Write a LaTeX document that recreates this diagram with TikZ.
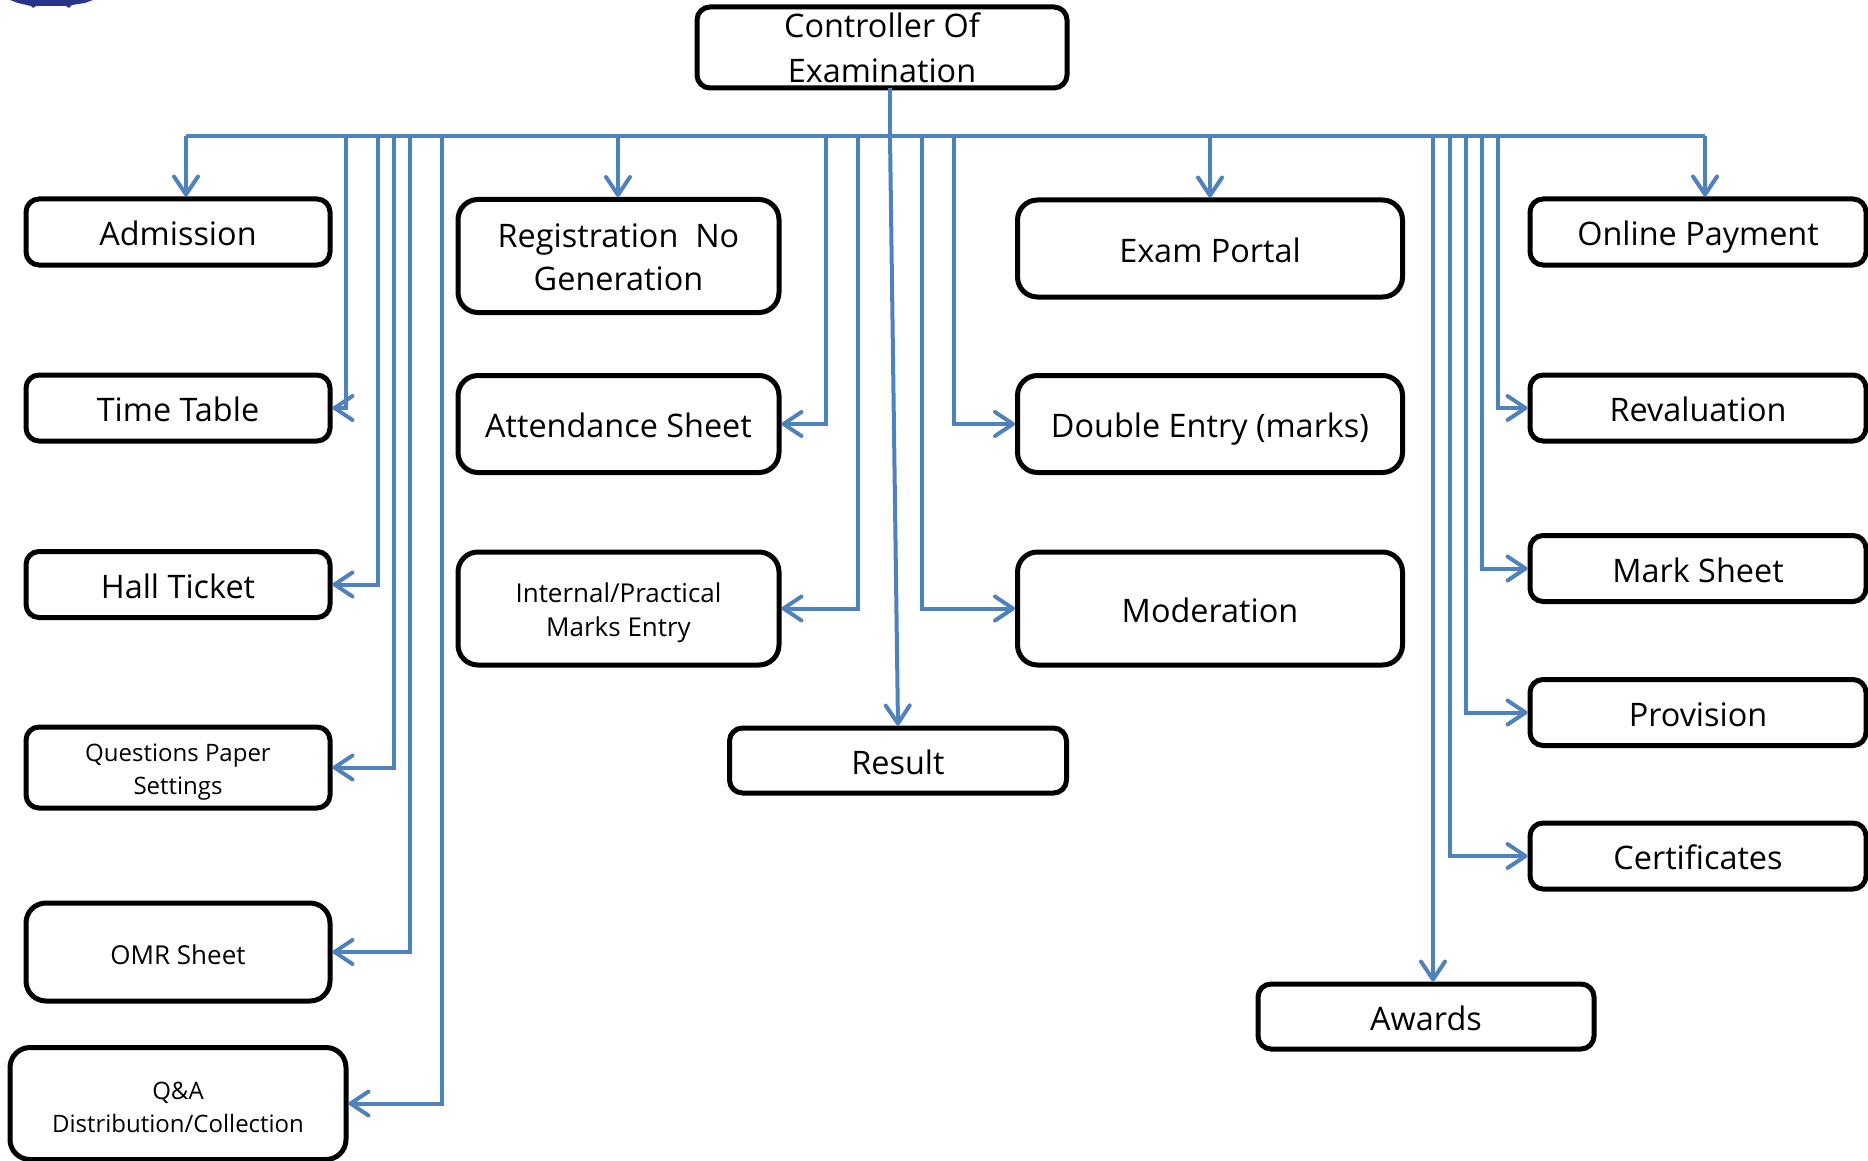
\documentclass[tikz,border=0pt]{standalone}
\usepackage{fontspec}
\setmainfont{Open Sans}
\usetikzlibrary{arrows.meta}
\definecolor{linkblue}{HTML}{4F81BD}
\definecolor{logoblue}{HTML}{27348B}
\tikzset{
  box/.style={draw=black,line width=5pt,rounded corners=13pt,inner sep=0pt,align=center,text=black,text depth=0pt,
    font=\fontsize{32.4}{45}\selectfont,execute at begin node={\rule{0pt}{27pt}}},
  bigbox/.style={box,rounded corners=20pt},
  smalltext/.style={font=\fontsize{24}{33}\selectfont,execute at begin node={}},
  midtext/.style={font=\fontsize{26}{34}\selectfont,execute at begin node={}},
  link/.style={draw=linkblue,line width=4pt},
  arrowlink/.style={link,-{Straight Barb[length=18pt,width=24pt,line width=4pt,round]}},
}
\newcommand{\bx}[7][box]{\node[#1,minimum width=#5 pt,minimum height=#6 pt] (#2) at (#3,#4) {#7};}
\begin{document}
\begin{tikzpicture}[x=1pt,y=-1pt]
\useasboundingbox[fill=white] (0,0) rectangle (1868,1161);
% fragment of a logo cut off at the top edge
\fill[logoblue] (10,0) -- (18,3) -- (31,6) -- (33,8) -- (36,6) -- (66,6) -- (69,8) -- (72,5) -- (85,3) -- (93,0) -- cycle;
% boxes
\bx[box,text height=71pt]{controller}{882}{47.5}{370}{81}{Controller Of\\Examination}
\bx{admission}{178}{232}{304}{66}{Admission}
\bx{timetable}{178}{408}{304}{66}{Time Table}
\bx{hall}{178}{584.5}{304}{66}{Hall Ticket}
\bx[box,smalltext,text height=54pt]{qp}{178}{767.5}{304}{81}{Questions Paper\\Settings}
\bx[bigbox,midtext,text depth=2pt]{omr}{178}{952}{304}{98}{OMR Sheet}
\bx[bigbox,smalltext,text height=57pt]{qa}{178}{1103.5}{336}{112}{Q\&A\\Distribution/Collection}
\bx[bigbox,font=\fontsize{32.4}{43}\selectfont,text height=69pt]{reg}{618.5}{256}{321}{113}{Registration\ \ No\\Generation}
\bx[bigbox]{att}{618.5}{424}{321}{97}{Attendance Sheet}
\bx[bigbox,midtext,text height=55.5pt]{internal}{618.5}{608.5}{321}{113}{Internal/Practical\\Marks Entry}
\bx{result}{898}{760.5}{337}{65}{Result}
\bx[bigbox]{exam}{1210}{248.5}{385}{97}{Exam Portal}
\bx[bigbox]{double}{1210}{424}{385}{97}{Double Entry (marks)}
\bx[bigbox]{moderation}{1210}{608.5}{385}{113}{Moderation}
\bx{online}{1698}{232}{336}{66}{Online Payment}
\bx{reval}{1698}{408}{336}{66}{Revaluation}
\bx{mark}{1698}{568.5}{336}{66}{Mark Sheet}
\bx{provision}{1698}{712.5}{336}{66}{Provision}
\bx{cert}{1698}{856}{336}{66}{Certificates}
\bx{awards}{1426}{1016.5}{336}{65}{Awards}
% bus coordinates
\coordinate (stem) at (890,136);
\coordinate (stemtop) at (890,88);
\foreach \n/\x in {a/186,b/346,c/378,d/394,e/410,f/442,g/618,h/826,i/858,j/922,k/954,l/1210,m/1433,n/1450,o/1466,p/1482,q/1498,r/1705}
  \coordinate (bus\n) at (\x,136);
% connectors
\draw[link] (stemtop) -- (stem);
\draw[link] (busa) -- (busr);
\draw[arrowlink] (busa) -- (busa |- admission.north);
\draw[arrowlink] (busg) -- (busg |- reg.north);
\draw[arrowlink] (busl) -- (busl |- exam.north);
\draw[arrowlink] (busr) -- (busr |- online.north);
\draw[arrowlink] (busb) |- (timetable.east);
\draw[arrowlink] (busc) |- (hall.east);
\draw[arrowlink] (busd) |- (qp.east);
\draw[arrowlink] (buse) |- (omr.east);
\draw[arrowlink] (busf) |- (qa.east);
\draw[arrowlink] (bush) |- (att.east);
\draw[arrowlink] (busi) |- (internal.east);
\draw[arrowlink] (stem) -- (result.north);
\draw[arrowlink] (busj) |- (moderation.west);
\draw[arrowlink] (busk) |- (double.west);
\draw[arrowlink] (busm) -- (busm |- awards.north);
\draw[arrowlink] (busn) |- (cert.west);
\draw[arrowlink] (buso) |- (provision.west);
\draw[arrowlink] (busp) |- (mark.west);
\draw[arrowlink] (busq) |- (reval.west);
\end{tikzpicture}
\end{document}
